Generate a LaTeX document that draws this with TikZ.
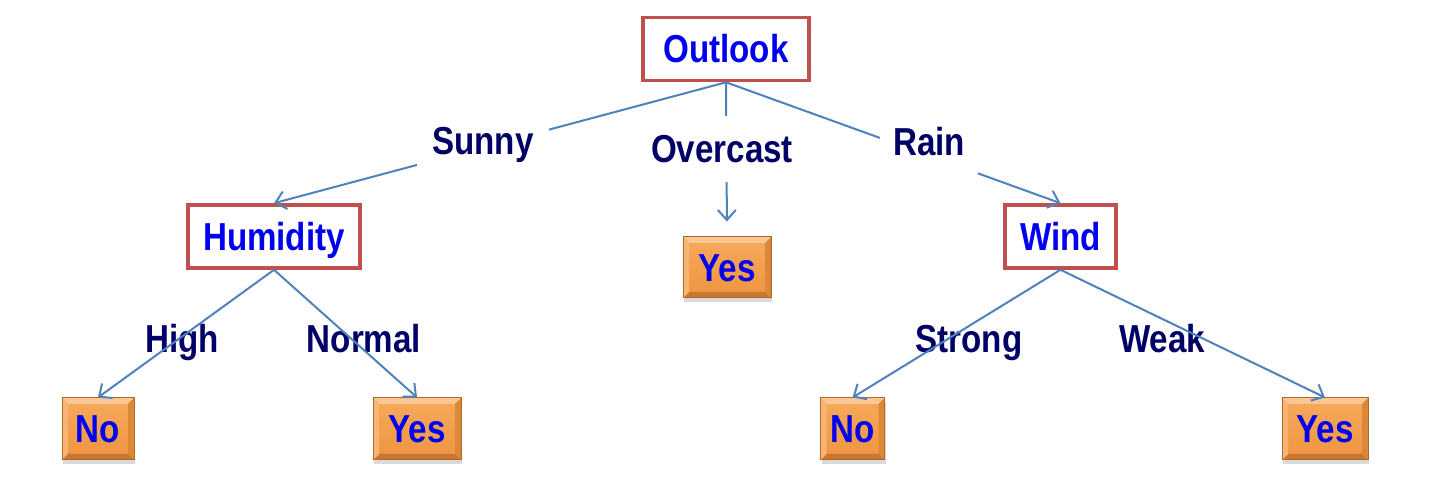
\documentclass[tikz,border=0pt]{standalone}
\usepackage{fontspec}
\setmainfont{Liberation Sans}[FakeStretch=0.85]
\usetikzlibrary{arrows.meta,shadows,calc}
\definecolor{boxred}{HTML}{C0504D}
\definecolor{titleblue}{HTML}{0000F0}
\definecolor{labnavy}{HTML}{000066}
\definecolor{linkblue}{HTML}{4F81BD}
\definecolor{orTopC}{HTML}{F6AA5C}
\definecolor{orBotC}{HTML}{EE9440}
\definecolor{orTop}{HTML}{F9C794}
\definecolor{orBot}{HTML}{C97630}
\definecolor{orLeft}{HTML}{F7B472}
\definecolor{orRight}{HTML}{DB8838}
\definecolor{orEdge}{HTML}{B06828}
\tikzset{
  bigfont/.style={font=\fontsize{19.5}{23}\selectfont\bfseries},
  attr/.style={bigfont, draw=boxred, line width=1.8pt, fill=white, text=titleblue,
    inner sep=0pt, text height=14pt, text depth=0pt, minimum height=31.5pt},
  leaf/.style={bigfont, text=titleblue, inner sep=0pt, text height=14pt, text depth=0pt,
    minimum height=31pt, draw=orEdge, line width=0.5pt,
    top color=orTopC, bottom color=orBotC,
    drop shadow={shadow xshift=0.6pt, shadow yshift=-2.2pt, opacity=0.3},
    path picture={
      \path (path picture bounding box.south west) coordinate (bSW)
            (path picture bounding box.north east) coordinate (bNE)
            (path picture bounding box.north west) coordinate (bNW)
            (path picture bounding box.south east) coordinate (bSE);
      \fill[orTop] (bNW) -- (bNE) -- ($(bNE)+(-3pt,-3pt)$) -- ($(bNW)+(3pt,-3pt)$) -- cycle;
      \fill[orBot] (bSW) -- (bSE) -- ($(bSE)+(-3pt,3pt)$) -- ($(bSW)+(3pt,3pt)$) -- cycle;
      \fill[orLeft] (bSW) -- (bNW) -- ($(bNW)+(3pt,-3pt)$) -- ($(bSW)+(3pt,3pt)$) -- cycle;
      \fill[orRight] (bNE) -- (bSE) -- ($(bSE)+(-3pt,3pt)$) -- ($(bNE)+(-3pt,-3pt)$) -- cycle;
    }},
  lab/.style={bigfont, text=labnavy, inner sep=0pt, text height=14pt, text depth=0pt, anchor=base},
  cut/.style={lab, fill=white, inner xsep=7.5pt, inner ysep=9pt},
  link/.style={draw=linkblue, line width=1pt},
  arr/.style={link, -{Straight Barb[length=5pt,width=9pt]}}
}
\begin{document}
\begin{tikzpicture}[x=0.5pt, y=-0.5pt]
\useasboundingbox (0,0) rectangle (1430,480);
% attribute nodes
\node[attr, minimum width=83pt] (outlook) at (726,49) {Outlook};
\node[attr, minimum width=86pt] (humid) at (274,236.5) {Humidity};
\node[attr, minimum width=55.5pt] (wind) at (1060.5,236.5) {Wind};
% leaves
\node[leaf, minimum width=44pt, minimum height=30.5pt] (yesO) at (727,267.5) {Yes};
\node[leaf, minimum width=36pt] (noL) at (98,429) {No};
\node[leaf, minimum width=44pt] (yesL) at (417,429) {Yes};
\node[leaf, minimum width=32pt] (noR) at (852.5,429) {No};
\node[leaf, minimum width=43pt] (yesR) at (1325,429) {Yes};
% labels under the lines
\node[lab] (high) at (182,353) {High};
\node[lab] (normal) at (364,353) {Normal};
\node[lab] (strong) at (969,353) {Strong};
\node[lab] (weak) at (1162,353) {Weak};
% connectors
\draw[arr] (outlook.south) -- (humid.north);
\draw[arr, shorten >=7.5pt] (outlook.south) -- (yesO.north);
\draw[arr] (outlook.south) -- (wind.north);
\draw[arr] (humid.south) -- (noL.north);
\draw[arr] (humid.south) -- (yesL.north);
\draw[arr] (wind.south) -- (noR.north);
\draw[arr] (wind.south) -- (yesR.north);
% labels cutting the lines
\node[cut] (sunny) at (483,155) {Sunny};
\node[cut, inner ysep=9.5pt] (overcast) at (722,163) {Overcast};
\node[cut, inner xsep=6.5pt] (rain) at (929,156) {Rain};
\end{tikzpicture}
\end{document}
